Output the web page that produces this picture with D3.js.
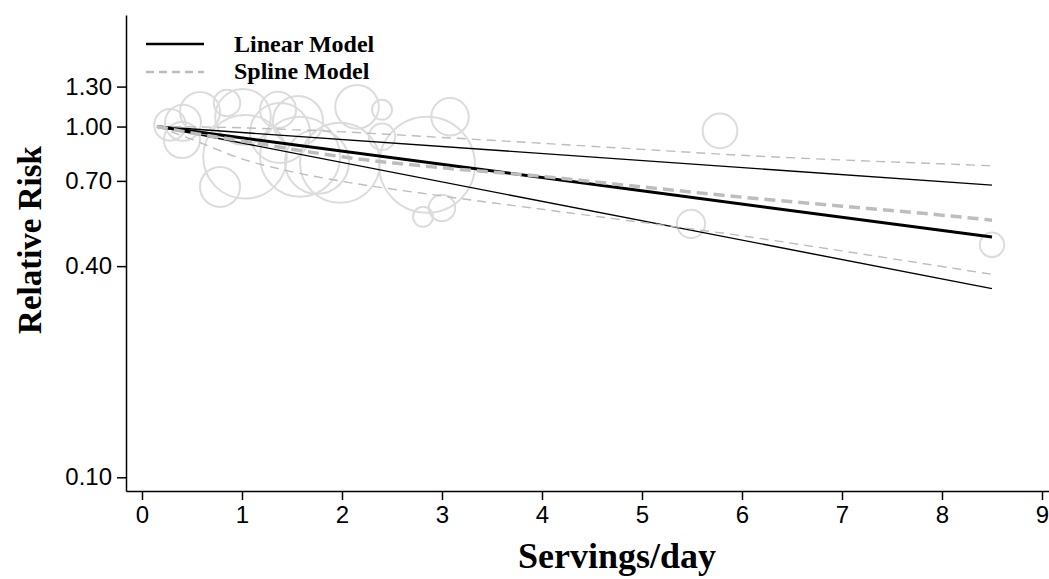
<!DOCTYPE html>
<html lang="en">
<head>
<meta charset="UTF-8">
<title>Relative Risk vs Servings/day</title>
<script src="https://cdn.jsdelivr.net/npm/d3@7"></script>
<style>
  body { margin: 0; background: #fff; }
  .tick text { font-family: "Liberation Sans", Arial, sans-serif; }
</style>
</head>
<body>
<div id="chart"></div>
<script>
// x ticks and y ticks
const xTicks = [0, 1, 2, 3, 4, 5, 6, 7, 8, 9];
const yTicks = [0.10, 0.40, 0.70, 1.00, 1.30];

// study bubbles: servings/day, relative risk, weight
const bubbleX  = [0.28, 0.41, 0.58, 0.85, 1.03, 0.78, 1.01, 1.38, 1.58, 1.98, 2.15, 2.40, 3.08, 2.85, 2.81, 3.00, 2.40, 5.78, 5.49, 8.50, 1.75, 0.40, 1.36, 1.56];
const bubbleRR = [1.011, 1.025, 1.101, 1.168, 0.820, 0.673, 1.066, 0.959, 0.820, 0.788, 1.138, 1.116, 1.066, 0.778, 0.553, 0.586, 0.935, 0.972, 0.528, 0.460, 0.793, 0.916, 1.116, 1.038];
const bubbleW  = [10, 13, 16, 7, 70, 16, 31, 36, 64, 64, 19, 4, 14, 92, 4, 7, 7, 12, 8, 6, 41, 13, 13, 25];

// linear model (log-linear) and 95% CI
const linX     = [0.15, 8.5];
const linRR    = [1.00, 0.484];
const linLoRR  = [1.00, 0.345];
const linHiRR  = [1.00, 0.681];

// spline model and 95% CI
const splX     = [0.15, 0.5, 1, 1.5, 2, 3, 4, 5, 6, 7, 8, 8.5];
const splRR    = [1.00, 0.959, 0.910, 0.862, 0.820, 0.763, 0.721, 0.673, 0.629, 0.593, 0.559, 0.541];
const splLoRR  = [1.00, 0.919, 0.809, 0.743, 0.698, 0.634, 0.581, 0.533, 0.488, 0.442, 0.399, 0.379];
const splHiRR  = [1.00, 0.998, 0.992, 0.980, 0.966, 0.931, 0.896, 0.861, 0.828, 0.803, 0.783, 0.773];

const width = 1049, height = 579;
const svg = d3.select("#chart").append("svg")
  .attr("width", width)
  .attr("height", height);

const xScale = d3.scaleLinear().domain([-0.16, 9.07]).range([126, 1049]);
const yScale = d3.scaleLog().domain([0.0914, 2.08]).range([491, 15]);
const rScale = d3.scaleSqrt().domain([0, 100]).range([0, 50]);

// bubbles
svg.append("g").selectAll("circle")
  .data(bubbleX.map((x, i) => ({ x: x, rr: bubbleRR[i], w: bubbleW[i] })))
  .enter().append("circle")
  .attr("cx", d => xScale(d.x))
  .attr("cy", d => yScale(d.rr))
  .attr("r", d => rScale(d.w))
  .attr("fill", "none")
  .attr("stroke", "#dcdcdc")
  .attr("stroke-width", 2);

const line = d3.line()
  .x(d => xScale(d[0]))
  .y(d => yScale(d[1]));
const curve = d3.line()
  .x(d => xScale(d[0]))
  .y(d => yScale(d[1]))
  .curve(d3.curveMonotoneX);

function drawLine(xs, ys, gen, color, w, dash) {
  svg.append("path")
    .datum(xs.map((x, i) => [x, ys[i]]))
    .attr("d", gen)
    .attr("fill", "none")
    .attr("stroke", color)
    .attr("stroke-width", w)
    .attr("stroke-dasharray", dash);
}

// linear model
drawLine(linX, linHiRR, line, "#000", 1.4, null);
drawLine(linX, linLoRR, line, "#000", 1.4, null);
drawLine(linX, linRR, line, "#000", 3, null);

// spline model
drawLine(splX, splHiRR, curve, "#bdbdbd", 1.4, "9,6");
drawLine(splX, splLoRR, curve, "#bdbdbd", 1.4, "9,6");
drawLine(splX, splRR, curve, "#bdbdbd", 3.5, "11,6");

// x axis
const xAxis = svg.append("g")
  .attr("transform", `translate(0,491)`)
  .call(d3.axisBottom(xScale).tickValues(xTicks).tickSize(9).tickSizeOuter(0).tickPadding(6));
xAxis.selectAll("text").style("font-size", "24px").attr("fill", "#000");

// y axis
const yAxis = svg.append("g")
  .attr("transform", `translate(126,0)`)
  .call(d3.axisLeft(yScale).tickValues(yTicks).tickFormat(d3.format(".2f")).tickSize(9).tickSizeOuter(0).tickPadding(5));
yAxis.selectAll("text").style("font-size", "24px").attr("fill", "#000");

svg.selectAll(".domain, .tick line").attr("stroke", "#000").attr("stroke-width", 1.5);

// axis titles
svg.append("text")
  .attr("x", 617)
  .attr("y", 568)
  .attr("text-anchor", "middle")
  .style("font-family", "'Liberation Serif', 'Times New Roman', serif")
  .style("font-weight", "bold")
  .style("font-size", "36px")
  .text("Servings/day");

svg.append("text")
  .attr("transform", "rotate(-90)")
  .attr("x", -240)
  .attr("y", 41)
  .attr("text-anchor", "middle")
  .style("font-family", "'Liberation Serif', 'Times New Roman', serif")
  .style("font-weight", "bold")
  .style("font-size", "33px")
  .text("Relative Risk");

// legend
const legend = svg.append("g");
legend.append("line")
  .attr("x1", 146).attr("x2", 204).attr("y1", 44).attr("y2", 44)
  .attr("stroke", "#000").attr("stroke-width", 2.5);
legend.append("line")
  .attr("x1", 146).attr("x2", 204).attr("y1", 72).attr("y2", 72)
  .attr("stroke", "#bdbdbd").attr("stroke-width", 2.5).attr("stroke-dasharray", "8,5");
legend.selectAll("text.lab")
  .data(["Linear Model", "Spline Model"])
  .enter().append("text")
  .attr("x", 234)
  .attr("y", (d, i) => 52 + i * 27)
  .style("font-family", "'Liberation Serif', 'Times New Roman', serif")
  .style("font-weight", "bold")
  .style("font-size", "24px")
  .text(d => d);
</script>
</body>
</html>
